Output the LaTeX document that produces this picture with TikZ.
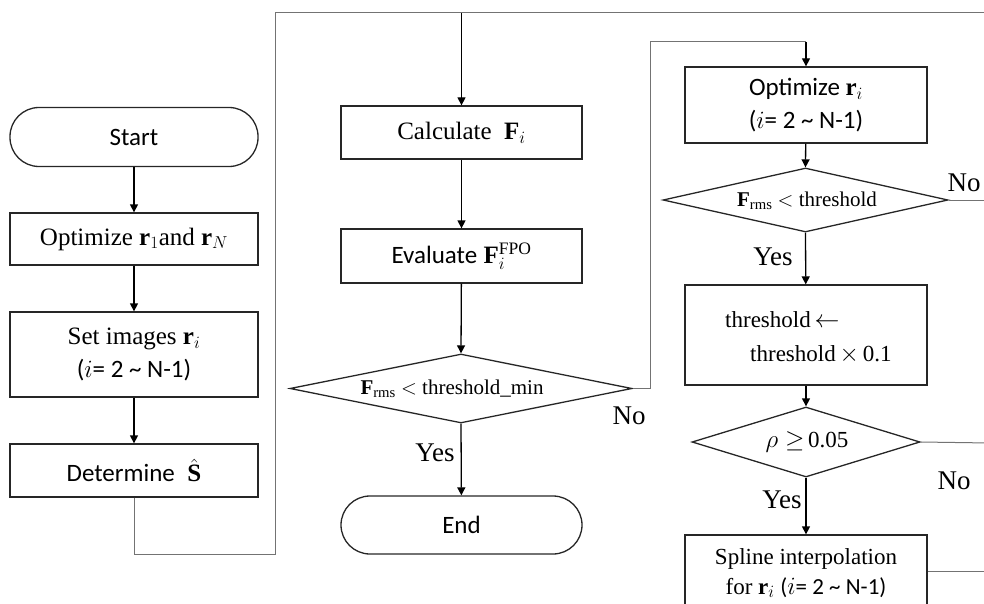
\documentclass[tikz,border=0pt]{standalone}
\usepackage{fontspec}
\setmainfont{Liberation Serif}
\newfontfamily\calib{Carlito}
\usetikzlibrary{shapes.geometric,arrows.meta}
\begin{document}
\begin{tikzpicture}[x=1pt,y=-1pt,
 box/.style={draw=black!85, line width=1.3pt, minimum width=248pt, inner sep=0pt, align=center},
 term/.style={box, rounded corners=29pt},
 dec/.style={draw=black!85, line width=1.3pt, diamond, inner sep=0pt},
 dtext/.style={inner sep=0pt, font=\fontsize{21}{24}\selectfont},
 arr/.style={line width=1.3pt, -{Triangle[length=8pt,width=8pt]}},
 route/.style={draw=black!55, line width=1pt},
 lbl/.style={font=\fontsize{27}{30}\selectfont, inner sep=0pt},
 cf/.style={font=\calib\fontsize{25}{33}\selectfont},
 sf/.style={font=\fontsize{25}{33}\selectfont},
 tf/.style={font=\fontsize{23}{30}\selectfont, inner sep=0pt}
]
\clip (0,0) rectangle (984,604);
% left column
\node[term, cf, minimum height=59pt] (start) at (134,137) {Start};
\node[box, sf, minimum height=52pt] (opt1) at (134,239) {Optimize $\mathbf{r}_1$and $\mathbf{r}_N$};
\node[box, sf, minimum height=85pt] (set) at (134,354.5) {Set images $\mathbf{r}_i$\\{\calib ($i$= 2 \textasciitilde{} N-1)}};
\node[box, sf, minimum height=53pt] (det) at (134,470.5) {{\calib Determine}\ \ $\hat{\mathbf{S}}$};
% middle column
\node[box, sf, minimum width=241pt, minimum height=53pt] (calc) at (461.5,132.5) {Calculate\ \ $\mathbf{F}_i$};
\node[box, sf, minimum width=241pt, minimum height=54pt] (eval) at (461.5,256) {{\calib Evaluate} $\mathbf{F}_i^{\mathrm{FPO}}$};
\node[dec, minimum width=342pt, minimum height=69pt] (d1) at (461,388.5) {};
\node[dtext] (d1t) at (452,389) {{\bfseries F}\textsubscript{rms} $<$ threshold\_min};
\node[term, cf, minimum width=241pt, minimum height=58pt] (end) at (461.5,525) {End};
% right column
\node[box, cf, minimum width=242pt, minimum height=76pt] (opt2) at (806,105) {Optimize $\mathbf{r}_i$\\($i$= 2 \textasciitilde{} N-1)};
\node[dec, minimum width=285pt, minimum height=64pt] (d2) at (805.5,200) {};
\node[dtext] (d2t) at (807,201) {{\bfseries F}\textsubscript{rms} $<$ threshold};
\node[box, minimum width=242pt, minimum height=100pt] (thr) at (806,335) {};
\node[tf, anchor=west] (thrA) at (725,320) {threshold\,$\leftarrow$};
\node[tf, anchor=west] (thrB) at (750,355) {threshold\,$\times$\,0.1};
\node[dec, minimum width=228pt, minimum height=70pt] (d3) at (806,442) {};
\node[dtext, font=\fontsize{23}{26}\selectfont] (d3t) at (807,442) {$\rho\geq$\,0.05};
\node[box, minimum width=242pt, minimum height=100pt] (spl) at (806,585) {};
\node[tf, align=center] (splt) at (806,573) {Spline interpolation\\for $\mathbf{r}_i$ {\calib ($i$= 2 \textasciitilde{} N-1)}};
% coordinates
\coordinate (c2) at (275,554);
\coordinate (c3) at (275,13);
\coordinate (c4) at (990,13);
\coordinate (ctop) at (461.5,13);
\coordinate (k1) at (650,388.5);
\coordinate (k2) at (650,42);
\coordinate (k3) at (806,42);
\coordinate (e2) at (990,200);
\coordinate (e3) at (990,443);
% connectors
\draw[arr] (start) -- (opt1);
\draw[arr] (opt1) -- (set);
\draw[arr] (set) -- (det);
\draw[route] (det.south) |- (c2) -- (c3) -- (c4);
\draw[arr] (ctop) -- (calc);
\draw[arr] (calc) -- (eval);
\draw[arr] (eval) -- (d1.north);
\draw[arr] (d1.south) -- (end);
\draw[route] (d1.east) -- (k1) -- (k2) -- (k3);
\draw[arr] (k3) -- (opt2.north);
\draw[arr] (opt2) -- (d2.north);
\draw[arr] (d2.south) -- (thr);
\draw[arr] (thr) -- (d3.north);
\draw[arr] (d3.south) -- (spl.north);
\draw[route] (d2.east) -- (e2);
\draw[route] (d3.east) -- (e3);
\draw[route] ([yshift=-37pt]spl.north east) -- ++(70,0);
% labels
\node[lbl] (y1) at (435,453) {Yes};
\node[lbl] (n1) at (629,416) {No};
\node[lbl] (y2) at (773,257) {Yes};
\node[lbl] (n2) at (964,183) {No};
\node[lbl] (y3) at (782,500) {Yes};
\node[lbl] (n3) at (954,481) {No};
\end{tikzpicture}
\end{document}
